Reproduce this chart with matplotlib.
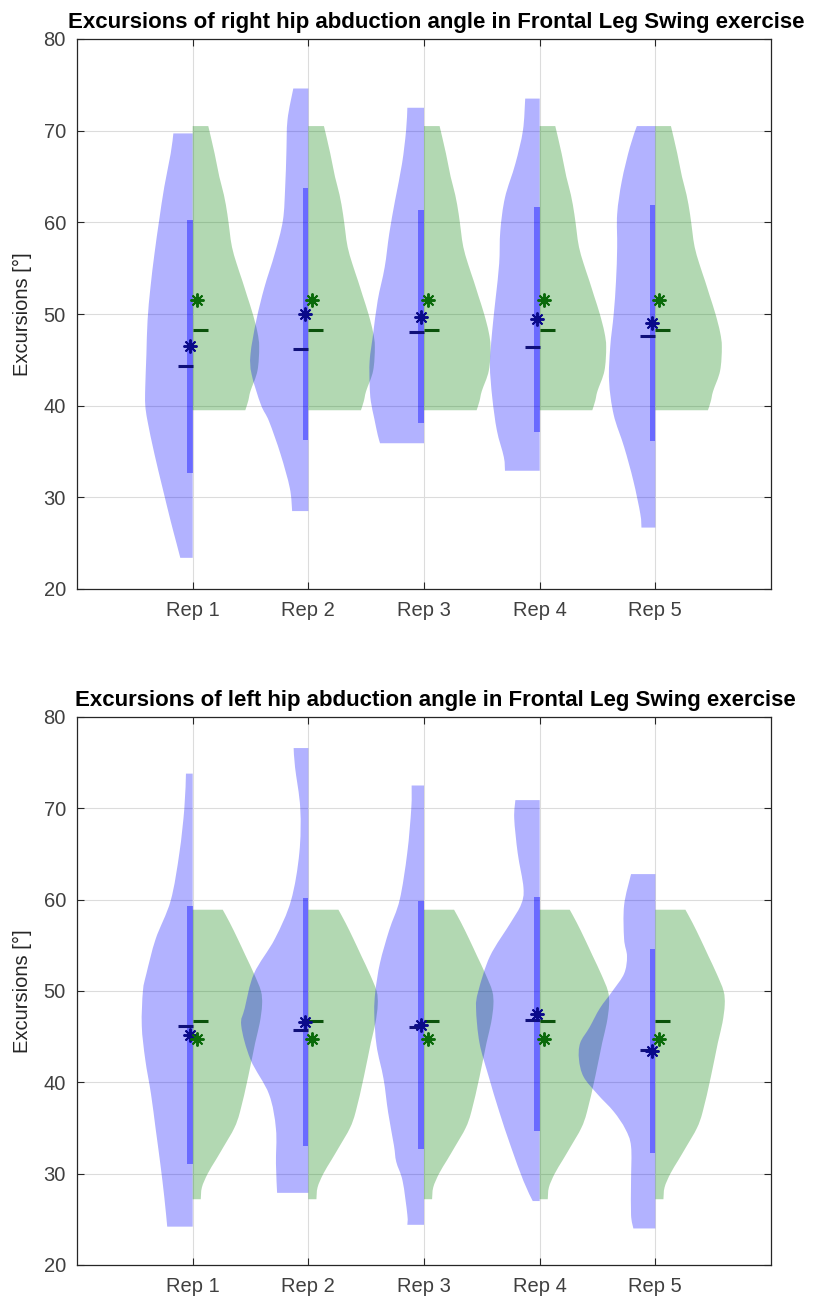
import numpy as np
import matplotlib
matplotlib.use("Agg")
import matplotlib.pyplot as plt
from matplotlib.path import Path
from matplotlib.patches import PathPatch

plt.rcParams['font.family'] = ['Liberation Sans', 'DejaVu Sans']

reps = ["Rep 1", "Rep 2", "Rep 3", "Rep 4", "Rep 5"]
y_ticks = [20, 30, 40, 50, 60, 70, 80]

# ---------------- right hip ----------------
right_title = "Excursions of right hip abduction angle in Frontal Leg Swing exercise"
right_mean = [46.5, 50.0, 49.7, 49.4, 49.0]
right_std = [13.8, 13.75, 11.6, 12.3, 12.9]
right_median = [44.3, 46.2, 48.0, 46.4, 47.6]
right_ref_mean = 51.5
right_ref_median = 48.2

# density outlines: (level, half width) pairs
right_ref_levels = [39.5, 40.5, 41.6, 43.8, 46.4, 48.0, 50.0, 52.0, 53.6, 55.5, 57.3, 59.0, 60.9, 63.0, 65.0, 67.5, 70.5]
right_ref_widths = [0.455, 0.48, 0.50, 0.56, 0.575, 0.56, 0.52, 0.47, 0.43, 0.38, 0.34, 0.32, 0.30, 0.27, 0.23, 0.19, 0.135]

right_levels = [
    [23.4, 25.0, 27.4, 31.0, 34.7, 38.3, 40.1, 42.0, 45.6, 49.3, 52.9, 56.6, 60.2, 63.9, 67.5, 69.7],
    [28.5, 31.0, 34.7, 38.3, 40.1, 43.4, 45.6, 49.3, 52.9, 56.6, 60.2, 63.9, 67.5, 71.2, 74.6],
    [35.9, 36.8, 38.6, 40.5, 42.3, 44.9, 47.8, 51.5, 55.1, 58.8, 62.4, 66.4, 70.0, 72.5],
    [32.9, 34.4, 37.3, 40.9, 44.5, 48.2, 51.8, 55.5, 59.1, 62.7, 66.4, 70.0, 73.5],
    [26.7, 28.2, 31.8, 35.5, 39.0, 42.7, 46.4, 50.0, 53.6, 57.3, 60.9, 64.5, 68.2, 70.5],
]
right_widths = [
    [0.107, 0.14, 0.19, 0.26, 0.33, 0.39, 0.41, 0.41, 0.40, 0.39, 0.365, 0.33, 0.29, 0.245, 0.19, 0.167],
    [0.14, 0.16, 0.24, 0.34, 0.41, 0.49, 0.50, 0.45, 0.38, 0.29, 0.22, 0.20, 0.19, 0.18, 0.13],
    [0.38, 0.40, 0.43, 0.46, 0.47, 0.47, 0.44, 0.40, 0.34, 0.30, 0.25, 0.19, 0.155, 0.144],
    [0.30, 0.31, 0.37, 0.41, 0.43, 0.41, 0.38, 0.35, 0.34, 0.30, 0.21, 0.145, 0.125],
    [0.12, 0.13, 0.19, 0.27, 0.36, 0.40, 0.39, 0.36, 0.34, 0.33, 0.33, 0.29, 0.22, 0.16],
]

# ---------------- left hip ----------------
left_title = "Excursions of left hip abduction angle in Frontal Leg Swing exercise"
left_mean = [45.2, 46.6, 46.3, 47.5, 43.45]
left_std = [14.1, 13.6, 13.6, 12.8, 11.15]
left_median = [46.2, 45.7, 46.1, 46.8, 43.5]
left_ref_mean = 44.7
left_ref_median = 46.7

left_ref_levels = [27.2, 28.5, 30.0, 31.5, 33.0, 35.0, 36.8, 40.6, 44.3, 46.5, 48.5, 50.0, 51.9, 53.8, 55.7, 57.5, 58.9]
left_ref_widths = [0.07, 0.08, 0.13, 0.20, 0.27, 0.36, 0.41, 0.48, 0.54, 0.58, 0.60, 0.59, 0.53, 0.46, 0.39, 0.32, 0.26]

left_levels = [
    [24.2, 27.4, 31.1, 34.9, 38.7, 42.5, 46.2, 50.0, 51.9, 55.7, 59.9, 65.1, 70.0, 73.8],
    [27.9, 31.1, 34.9, 38.7, 42.5, 46.2, 48.1, 51.9, 55.7, 59.9, 65.1, 70.0, 74.5, 76.6],
    [24.4, 25.5, 29.2, 31.3, 33.1, 36.7, 40.4, 44.0, 47.6, 50.0, 53.1, 56.7, 60.0, 65.1, 70.0, 72.5],
    [27.0, 29.2, 33.0, 36.8, 40.6, 44.3, 48.1, 50.0, 53.8, 57.5, 59.5, 61.3, 65.1, 68.9, 70.9],
    [24.0, 25.5, 29.2, 33.0, 34.9, 36.8, 38.7, 40.6, 42.5, 44.3, 46.0, 48.1, 50.0, 51.9, 53.8, 55.7, 59.4, 62.8],
]
left_widths = [
    [0.22, 0.245, 0.28, 0.32, 0.36, 0.41, 0.44, 0.43, 0.40, 0.32, 0.19, 0.115, 0.072, 0.058],
    [0.27, 0.28, 0.28, 0.34, 0.50, 0.58, 0.55, 0.47, 0.29, 0.15, 0.078, 0.07, 0.115, 0.127],
    [0.144, 0.144, 0.185, 0.24, 0.26, 0.31, 0.35, 0.41, 0.43, 0.42, 0.38, 0.30, 0.21, 0.145, 0.11, 0.107],
    [0.06, 0.14, 0.25, 0.35, 0.44, 0.52, 0.55, 0.53, 0.43, 0.25, 0.16, 0.14, 0.19, 0.22, 0.21],
    [0.19, 0.21, 0.21, 0.21, 0.26, 0.36, 0.50, 0.62, 0.66, 0.65, 0.57, 0.48, 0.37, 0.27, 0.245, 0.27, 0.27, 0.21],
]

BLUE_FILL = (0.0, 0.0, 1.0)
GREEN_FILL = (0.0, 0.5, 0.0)
BAR_COLOR = (0.0, 0.0, 1.0)
BLUE_DARK = "#10107a"
GREEN_DARK = "#0b520b"
GREEN_STAR = "#0a6a0a"
ASTERISK = (8, 2, 0)


def half_violin(ax, center, levels, widths, side, color):
    """Closed half-violin outline; the curved edge is a Catmull-Rom spline
    through the (level, width) points, drawn as cubic Bezier segments."""
    lv = np.asarray(levels, float)
    x = center + side * np.asarray(widths, float)
    pts = np.column_stack([x, lv])
    n = len(pts)
    ext = np.vstack([pts[0], pts, pts[-1]])
    verts = [(center, lv[0]), tuple(pts[0])]
    codes = [Path.MOVETO, Path.LINETO]
    for i in range(n - 1):
        p0, p1, p2, p3 = ext[i], ext[i + 1], ext[i + 2], ext[i + 3]
        c1 = p1 + (p2 - p0) / 6.0
        c2 = p2 - (p3 - p1) / 6.0
        verts += [tuple(c1), tuple(c2), tuple(p2)]
        codes += [Path.CURVE4] * 3
    verts += [(center, lv[-1]), (center, lv[0])]
    codes += [Path.LINETO, Path.CLOSEPOLY]
    patch = PathPatch(Path(verts, codes), facecolor=color, alpha=0.3,
                      edgecolor='none', lw=0, zorder=2)
    ax.add_patch(patch)


def draw_panel(ax, title, levels, widths, ref_levels, ref_widths,
               mean, std, median, ref_mean, ref_median):
    for i in range(len(reps)):
        c = i + 1
        half_violin(ax, c, levels[i], widths[i], -1, BLUE_FILL)
        half_violin(ax, c, ref_levels, ref_widths, +1, GREEN_FILL)

        # mean +/- std bar
        ax.fill_between([c - 0.05, c], mean[i] - std[i], mean[i] + std[i],
                        color=BAR_COLOR, alpha=0.4, lw=0, zorder=3)
        # medians
        ax.plot([c - 0.13, c], [median[i], median[i]], color=BLUE_DARK,
                lw=2.2, solid_capstyle='butt', zorder=4)
        ax.plot([c, c + 0.13], [ref_median, ref_median], color=GREEN_DARK,
                lw=2.2, solid_capstyle='butt', zorder=4)
        # means
        ax.plot([c - 0.025], [mean[i]], marker=ASTERISK, ms=10, mew=1.4,
                color="#0a0a8a", zorder=5, ls='none')
        ax.plot([c + 0.035], [ref_mean], marker=ASTERISK, ms=10, mew=1.4,
                color=GREEN_STAR, zorder=5, ls='none')

    ax.set_xlim(0, 6)
    ax.set_ylim(20, 80)
    ax.set_xticks(range(1, len(reps) + 1))
    ax.set_xticklabels(reps)
    ax.set_yticks(y_ticks)
    ax.grid(True, color="#dcdcdc", lw=0.8)
    ax.set_axisbelow(True)
    ax.tick_params(direction='in', length=5, width=0.8, top=True, right=True,
                   labelsize=14.5, colors="#262626", labelcolor="#404040")
    ax.tick_params(axis='x', pad=9)
    ax.tick_params(axis='y', pad=8)
    for s in ax.spines.values():
        s.set_color("#262626")
        s.set_linewidth(0.9)
    ax.set_ylabel("Excursions [°]", fontsize=14.5, color="#262626", labelpad=8)
    ax.set_title(title, fontsize=16, fontweight='bold', color="black",
                 pad=8, x=0.517)


fig = plt.figure(figsize=(8.17, 12.98), dpi=100)
W, H = 817, 1298
ax1 = fig.add_axes([77 / W, 1 - 589 / H, 694 / W, 550 / H])
ax2 = fig.add_axes([77 / W, 1 - 1265 / H, 694 / W, 548 / H])

draw_panel(ax1, right_title, right_levels, right_widths, right_ref_levels, right_ref_widths,
           right_mean, right_std, right_median, right_ref_mean, right_ref_median)
draw_panel(ax2, left_title, left_levels, left_widths, left_ref_levels, left_ref_widths,
           left_mean, left_std, left_median, left_ref_mean, left_ref_median)

fig.savefig("out.png", dpi=100)
